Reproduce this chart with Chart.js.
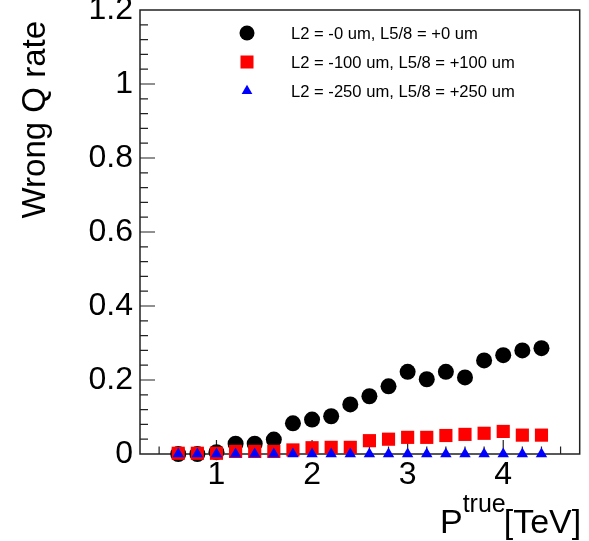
<!DOCTYPE html>
<html><head><meta charset="utf-8">
<script src="https://cdn.jsdelivr.net/npm/chart.js@4/dist/chart.umd.min.js"></script>
<style>html,body{margin:0;padding:0;background:#fff;}#wrap{width:589px;height:541px;}</style>
</head><body><div id="wrap"><canvas id="c" width="589" height="541"></canvas></div>
<script>
// ---- data ----
const pTrue = [0.6,0.8,1.0,1.2,1.4,1.6,1.8,2.0,2.2,2.4,2.6,2.8,3.0,3.2,3.4,3.6,3.8,4.0,4.2,4.4];
const rate0   = [0.000,0.000,0.005,0.028,0.028,0.039,0.083,0.093,0.102,0.134,0.156,0.183,0.222,0.202,0.222,0.207,0.253,0.267,0.280,0.286];
const rate100 = [0.002,0.002,0.002,0.007,0.007,0.007,0.011,0.017,0.018,0.018,0.036,0.040,0.045,0.045,0.050,0.053,0.056,0.061,0.051,0.051];
const rate250 = [0,0,0,0,0,0,0,0,0,0,0,0,0,0,0,0,0,0,0,0];
const seriesLabels = ['L2 = -0 um, L5/8 = +0 um','L2 = -100 um, L5/8 = +100 um','L2 = -250 um, L5/8 = +250 um'];
const xTickLabels = [1,2,3,4];
const yTickLabels = [0,0.2,0.4,0.6,0.8,1,1.2];
const xMinorStep = 0.2, yMinorStep = 0.04;
const yTitle = 'Wrong Q rate';
const xTitleMain = 'P', xTitleSup = 'true', xTitleUnit = '[TeV]';

const FONT = "'Liberation Sans', Arial, Helvetica, sans-serif";
const AXIS = '#222';

function pts(ys){ return pTrue.map((x,i)=>({x:x,y:ys[i]})); }

const styles = [
  {color:'#000000', shape:'circle', r:8},
  {color:'#ff0000', shape:'rect', r:9.3},
  {color:'#0000ff', shape:'triangle', r:6.6}
];

function drawMarker(ctx, shape, x, y, r, color){
  ctx.save(); ctx.fillStyle = color; ctx.beginPath();
  if (shape==='circle'){ ctx.arc(x,y,r,0,Math.PI*2); }
  else if (shape==='rect'){ const s=r*Math.SQRT1_2; ctx.rect(x-s,y-s,2*s,2*s); }
  else { ctx.moveTo(x, y-r); ctx.lineTo(x+r*Math.sin(2*Math.PI/3), y+r*0.5); ctx.lineTo(x-r*Math.sin(2*Math.PI/3), y+r*0.5); ctx.closePath(); }
  ctx.fill(); ctx.restore();
}

const rootPlugin = {
  id:'rootFrame',
  beforeDatasetsDraw(chart){
    const {ctx, chartArea:a, scales:{x,y}} = chart;
    ctx.save();
    ctx.strokeStyle = AXIS; ctx.lineWidth = 1.5;
    ctx.strokeRect(a.left, a.top, a.right-a.left, a.bottom-a.top);
    ctx.lineWidth = 1.2;
    ctx.beginPath();
    for (let k = Math.round(x.min/xMinorStep); k*xMinorStep <= x.max+1e-9; k++){
      const v = +(k*xMinorStep).toFixed(6);
      if (v<=x.min+1e-9 || v>=x.max-1e-9) continue;
      const px = x.getPixelForValue(v);
      const major = Math.abs(v-Math.round(v))<1e-6;
      const len = major?14:7.5;
      ctx.moveTo(px, a.bottom); ctx.lineTo(px, a.bottom-len);
    }
    for (let k = 0; k*yMinorStep <= y.max+1e-9; k++){
      const v = +(k*yMinorStep).toFixed(6);
      if (v<=y.min+1e-9 || v>=y.max-1e-9) continue;
      const py = y.getPixelForValue(v);
      const major = Math.abs(v/0.2-Math.round(v/0.2))<1e-6;
      const len = major?15:8;
      ctx.moveTo(a.left, py); ctx.lineTo(a.left+len, py);
    }
    ctx.stroke();
    ctx.restore();
  },
  afterDraw(chart){
    const {ctx} = chart;
    ctx.save();
    ctx.font = '16.6px '+FONT; ctx.fillStyle = '#000'; ctx.textBaseline='middle'; ctx.textAlign='left';
    const rowsY = [33,62,91];
    const lr = [7.5, 9.2, 6.2];
    seriesLabels.forEach((t,i)=>{
      drawMarker(ctx, styles[i].shape, 247, rowsY[i], lr[i], styles[i].color);
      ctx.fillText(t, 291, rowsY[i]+1);
    });
    ctx.save();
    ctx.translate(45, 21); ctx.rotate(-Math.PI/2);
    ctx.font = '33px '+FONT; ctx.textAlign='right'; ctx.textBaseline='alphabetic';
    ctx.fillText(yTitle, 0, 0);
    ctx.restore();
    ctx.textBaseline='alphabetic'; ctx.textAlign='left';
    let xx = 440;
    ctx.font = '34px '+FONT; ctx.fillText(xTitleMain, xx, 533); xx += ctx.measureText(xTitleMain).width;
    ctx.font = '25px '+FONT; ctx.fillText(xTitleSup, xx, 512); xx += ctx.measureText(xTitleSup).width - 2;
    ctx.font = '34px '+FONT; ctx.fillText(xTitleUnit, xx, 533);
    ctx.restore();
  }
};

const datasets = [rate0, rate100, rate250].map((d,i)=>({
  label: seriesLabels[i],
  data: pts(d),
  pointStyle: styles[i].shape,
  pointRadius: styles[i].r,
  pointHoverRadius: styles[i].r,
  pointBackgroundColor: styles[i].color,
  pointBorderColor: styles[i].color,
  pointBorderWidth: 0,
  showLine: false,
  clip: false,
  order: 3-i
}));

new Chart(document.getElementById('c'), {
  type:'scatter',
  data:{datasets},
  plugins:[rootPlugin],
  options:{
    responsive:false, animation:false, devicePixelRatio:1,
    layout:{padding:{top:10,right:2,left:0,bottom:0}},
    plugins:{legend:{display:false}, tooltip:{enabled:false}},
    scales:{
      x:{
        type:'linear', min:0.2, max:4.8,
        afterBuildTicks(s){ s.ticks = xTickLabels.map(v=>({value:v})); },
        afterFit(s){ s.height = 87; s.paddingLeft = 0; s.paddingRight = 0; },
        ticks:{font:{family:FONT,size:32}, color:'#000', padding:2, maxRotation:0, autoSkip:false, callback:v=>String(v)},
        grid:{display:false, drawTicks:false},
        border:{display:false}
      },
      y:{
        type:'linear', min:0, max:1.2,
        afterBuildTicks(s){ s.ticks = yTickLabels.map(v=>({value:v})); },
        afterFit(s){ s.width = 140; s.paddingTop = 0; s.paddingBottom = 0; },
        ticks:{font:{family:FONT,size:32}, color:'#000', padding:7, autoSkip:false, callback:v=> (Number.isInteger(v)? String(v) : v.toFixed(1))},
        grid:{display:false, drawTicks:false},
        border:{display:false}
      }
    }
  }
});
</script></body></html>
